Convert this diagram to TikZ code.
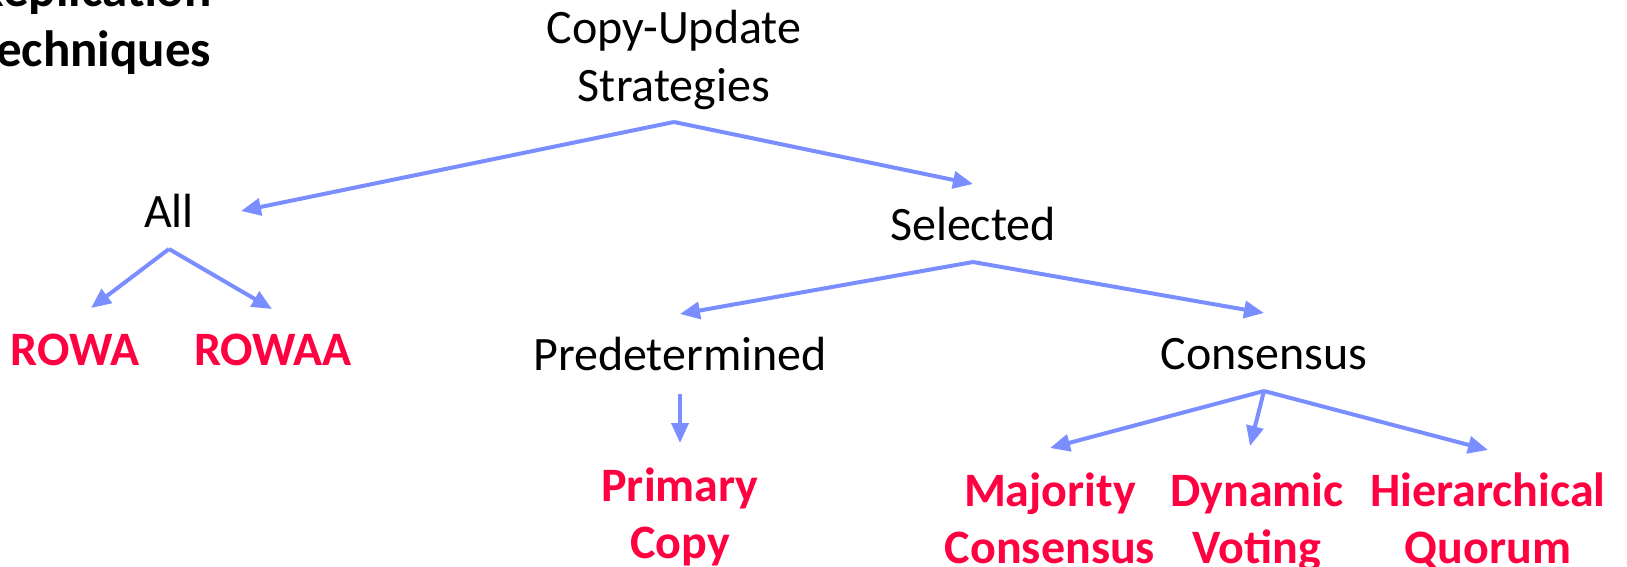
\documentclass[tikz,border=0pt]{standalone}
\usepackage{fontspec}
\setmainfont{Carlito}
\usetikzlibrary{arrows.meta,calc}
\definecolor{arrowblue}{RGB}{122,142,255}
\definecolor{leafred}{RGB}{255,0,64}
\begin{document}
\begin{tikzpicture}[x=1pt,y=-1pt,
  lbl/.style={inner sep=0pt,font=\fontsize{48}{57}\selectfont,anchor=base},
  redlbl/.style={inner sep=0pt,font=\fontsize{48}{57}\selectfont\bfseries,text=leafred,anchor=base},
  leaf/.style={inner sep=0pt,font=\fontsize{48}{57}\selectfont\bfseries,align=center,text=leafred},
  arr/.style={draw=arrowblue,line width=4pt,-{Triangle[length=20pt,width=17pt]}}]
\useasboundingbox (0,0) rectangle (1627,567);
\clip (0,0) rectangle (1627,567);
\node[inner sep=0pt,font=\fontsize{51}{60}\selectfont\bfseries,align=left,anchor=south west] (title) at (-25,75) {Replication\\Techniques};
\node[inner sep=0pt,font=\fontsize{48}{58}\selectfont,align=center] (root) at (674,60) {Copy-Update\\Strategies};
\node[lbl] (all) at (169,227) {All};
\node[lbl] (sel) at (973,240) {Selected};
\node[redlbl] (rowa) at (75,365) {ROWA};
\node[redlbl] (rowaa) at (273,365) {ROWAA};
\node[lbl] (pred) at (680,370) {Predetermined};
\node[lbl] (cons) at (1264,369) {Consensus};
\node[leaf] (prim) at (680,519) {\strut Primary\\Copy\strut};
\node[leaf] (maj) at (1050,524) {\strut Majority\\Consensus\strut};
\node[leaf] (dyn) at (1257,524) {\strut Dynamic\\Voting\strut};
\node[leaf] (hier) at (1488,524) {\strut Hierarchical\\Quorum\strut};
\draw[arr] ($(root)+(0,62)$) -- ($(all.base)+(72,-16)$);
\draw[arr] ($(root)+(0,62)$) -- ($(sel.base)+(0,-56)$);
\draw[arr] ($(all.base)+(0,22)$) -- ($(rowa.base)+(16,-57)$);
\draw[arr] ($(all.base)+(0,22)$) -- ($(rowaa.base)+(-1,-56)$);
\draw[arr] ($(sel.base)+(0,22)$) -- ($(pred.base)+(0,-56)$);
\draw[arr] ($(sel.base)+(0,22)$) -- ($(cons.base)+(0,-56)$);
\draw[arr] ($(pred.base)+(0,24)$) -- ($(prim)+(0,-76)$);
\draw[arr] ($(cons.base)+(0,22)$) -- ($(maj)+(0,-76)$);
\draw[arr] ($(cons.base)+(0,22)$) -- ($(dyn)+(-7,-78)$);
\draw[arr] ($(cons.base)+(0,22)$) -- ($(hier)+(0,-74)$);
\end{tikzpicture}
\end{document}
